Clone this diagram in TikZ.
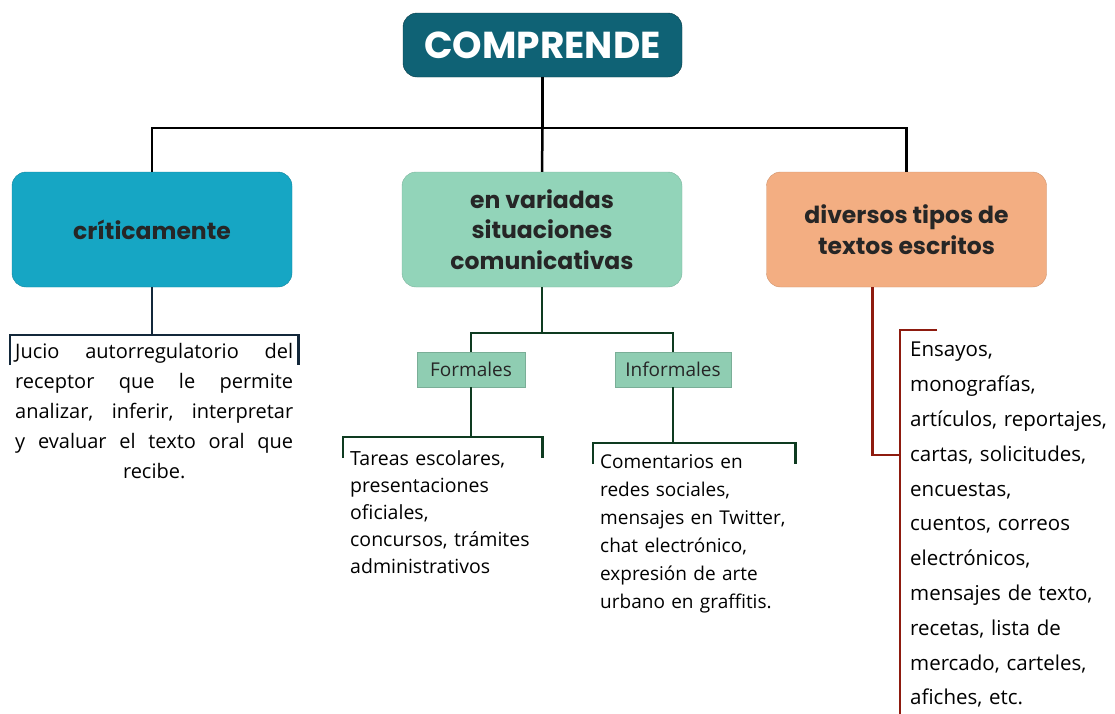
\documentclass[tikz,border=0pt]{standalone}
\usepackage{fontspec}
\setmainfont{Open Sans}
\newfontfamily\headfont{Poppins}
\usetikzlibrary{calc}

\definecolor{tealosc}{HTML}{0F6275}
\definecolor{celeste}{HTML}{16A6C4}
\definecolor{menta}{HTML}{92D4B9}
\definecolor{mentab}{HTML}{8FCDB2}
\definecolor{durazno}{HTML}{F3AE82}
\definecolor{azul}{HTML}{13283A}
\definecolor{verde}{HTML}{0E3B20}
\definecolor{rojo}{HTML}{8E1B0F}

\newcommand{\jline}[1]{\makebox[278pt][s]{#1}}

\begin{document}
\begin{tikzpicture}[x=1pt,y=-1pt,
    caja/.style={rounded corners=14pt, minimum width=280pt, minimum height=115pt,
      align=center, text=black!85, font=\headfont\bfseries\fontsize{23.5}{30.5}\selectfont},
    chica/.style={fill=mentab, draw=mentab!85!black, minimum height=35pt,
      font=\fontsize{19}{20}\selectfont, text=black!85},
    texto/.style={anchor=north west, align=left, inner xsep=7pt, inner ysep=4pt,
      text=black},
    linea/.style={line width=2.5pt}]
  \useasboundingbox (0,0) rectangle (1115,713);

  \node[caja, fill=tealosc, draw=tealosc!60!black, minimum width=279pt, minimum height=64pt,
    text=white, font=\headfont\bfseries\fontsize{37.5}{40}\selectfont] (comp) at (542.5,45) {COMPRENDE};

  \node[caja, fill=celeste, draw=celeste!80!black] (critica) at (152,229.5) {críticamente};
  \node[caja, fill=menta, draw=menta!85!black] (sit) at (542,229.5) {en variadas\\situaciones\\comunicativas};
  \node[caja, fill=durazno, draw=durazno!85!black] (tipos) at (906.5,229.5) {diversos tipos de\\textos escritos};

  \node[chica, minimum width=108pt] (formal) at (471,369.5) {Formales};
  \node[chica, minimum width=116pt] (informal) at (673,369.5) {Informales};

  \node[texto, align=center, inner xsep=5pt, inner ysep=8pt, font=\fontsize{20}{30}\selectfont] (jucio) at (10,335)
    {\jline{Jucio autorregulatorio del}\\\jline{receptor que le permite}\\
     \jline{analizar, inferir, interpretar}\\\jline{y evaluar el texto oral que}\\recibe.};
  \node[texto, inner ysep=13pt, text width=185pt, font=\fontsize{19.5}{27}\selectfont] (tareas) at (343,437)
    {Tareas escolares,\\presentaciones\\oficiales,\\concursos, trámites\\administrativos};
  \node[texto, inner ysep=11pt, text width=188pt, font=\fontsize{19}{28}\selectfont] (coment) at (593,443)
    {Comentarios en\\redes sociales,\\\mbox{mensajes en Twitter,}\\chat electrónico,\\expresión de arte\\urbano en graffitis.};
  \node[texto, inner xsep=10pt, inner ysep=12pt, text width=200pt, font=\fontsize{20.5}{34.8}\selectfont] (ensayos) at (900,330)
    {Ensayos,\\monografías,\\artículos, reportajes,\\cartas, solicitudes,\\encuestas,\\cuentos, correos\\electrónicos,\\mensajes de texto,\\recetas, lista de\\mercado, carteles,\\afiches, etc.};

  % tronco principal
  \draw[linea] (comp.south) -- ++(0,51) coordinate (reparto);
  \draw[linea] (critica.north) |- (reparto) -| (tipos.north);
  \draw[linea] (reparto) -- (sit.north);

  % ramas
  \draw[linea, azul] (critica.south) -- (critica.south |- jucio.north);
  \draw[linea, verde] (sit.south) -- ++(0,46) coordinate (bifurca);
  \draw[linea, verde] (formal.north) |- (bifurca) -| (informal.north);
  \draw[linea, verde] (formal.south) -- (formal.south |- tareas.north);
  \draw[linea, verde] (informal.south) -- (informal.south |- coment.north);
  \draw[linea, rojo] ([xshift=-34pt]tipos.south) |- ([yshift=-125pt]ensayos.north west);
  \draw[linea, rojo] ([xshift=37pt]ensayos.north west) -- (ensayos.north west) -- ([yshift=-20pt]ensayos.south west);

  \foreach \n/\c/\h in {jucio/azul/30, tareas/verde/21, coment/verde/21}
    \draw[linea, \c] ([yshift=-\h pt]\n.north west) |- (\n.north) -| ([yshift=-\h pt]\n.north east);
\end{tikzpicture}
\end{document}
